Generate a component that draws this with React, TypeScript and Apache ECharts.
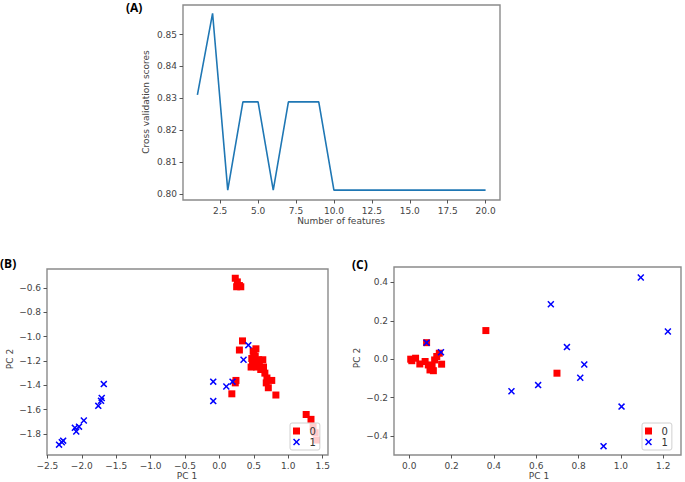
import React, { useEffect, useRef } from "react";
import * as echarts from "echarts";

// Panel A: recursive feature elimination
const featureCounts = [1, 2, 3, 4, 5, 6, 7, 8, 9, 10, 11, 12, 13, 14, 15, 16, 17, 18, 19, 20];
const cvScores = [0.8311, 0.8567, 0.8012, 0.8289, 0.8289, 0.8012, 0.8289, 0.8289, 0.8289, 0.8012,
  0.8012, 0.8012, 0.8012, 0.8012, 0.8012, 0.8012, 0.8012, 0.8012, 0.8012, 0.8012];
const ticksAX = [2.5, 5.0, 7.5, 10.0, 12.5, 15.0, 17.5, 20.0];
const ticksAY = [0.80, 0.81, 0.82, 0.83, 0.84, 0.85];

// Panel B: PCA, class 0 and class 1
const bClass0X = [0.23, 0.26, 0.29, 0.25, 0.31, 0.335, 0.29, 0.49, 0.52, 0.47, 0.57, 0.63, 0.46, 0.54, 0.64, 0.66, 0.69, 0.76, 0.68, 0.71, 0.82, 0.50, 0.55, 0.60, 0.48, 0.58, 0.53, 0.24, 0.23, 0.18, 1.26, 1.33, 1.36, 1.39, 1.41];
const bClass0Y = [-0.52, -0.55, -0.58, -0.59, -0.59, -1.035, -1.11, -1.12, -1.16, -1.18, -1.19, -1.19, -1.25, -1.25, -1.25, -1.30, -1.34, -1.36, -1.38, -1.42, -1.48, -1.14, -1.21, -1.27, -1.22, -1.23, -1.10, -1.36, -1.38, -1.47, -1.64, -1.68, -1.74, -1.79, -1.85];
const bClass1X = [0.42, 0.35, 0.19, 0.10, -0.09, -0.09, -1.68, -1.71, -1.72, -1.76, -1.97, -2.04, -2.10, -2.08, -2.27, -2.29, -2.33];
const bClass1Y = [-1.07, -1.19, -1.37, -1.41, -1.37, -1.53, -1.39, -1.505, -1.528, -1.569, -1.69, -1.74, -1.75, -1.78, -1.855, -1.868, -1.888];
const ticksBX = [-2.5, -2.0, -1.5, -1.0, -0.5, 0.0, 0.5, 1.0, 1.5];
const ticksBY = [-1.8, -1.6, -1.4, -1.2, -1.0, -0.8, -0.6];

// Panel C: PCA, class 0 and class 1
const cClass0X = [0.007, 0.012, 0.03, 0.05, 0.075, 0.09, 0.098, 0.114, 0.12, 0.13, 0.153, 0.142, 0.108, 0.082, 0.362, 0.698];
const cClass0Y = [0.0, -0.008, 0.005, -0.025, -0.012, -0.03, -0.056, -0.06, -0.004, 0.014, -0.026, 0.031, -0.035, 0.086, 0.149, -0.073];
const cClass1X = [0.082, 0.15, 0.483, 0.609, 0.669, 0.745, 0.808, 0.827, 1.003, 0.918, 1.094, 1.222];
const cClass1Y = [0.086, 0.036, -0.167, -0.135, 0.286, 0.063, -0.097, -0.028, -0.247, -0.453, 0.425, 0.144];
const ticksCX = [0.0, 0.2, 0.4, 0.6, 0.8, 1.0, 1.2];
const ticksCY = [-0.4, -0.2, 0.0, 0.2, 0.4];

const classNames = ["0", "1"];

const X_MARK = "path://M1.5,0 L5,3.5 L8.5,0 L10,1.5 L6.5,5 L10,8.5 L8.5,10 L5,6.5 L1.5,10 L0,8.5 L3.5,5 L0,1.5 Z";
const SQ_MARK = "path://M0,0 L10,0 L10,10 L0,10 Z";

const zip = (xs: number[], ys: number[]) => xs.map((x, i) => [x, ys[i]]);
const fmt = (d: number) => (v: number) => v.toFixed(d).replace("-", "\u2212");

const FONT = "DejaVu Sans";
const TICK_COLOR = "#444";
const FRAME = "#8a8a8a";

function axis(gridIndex: number, min: number, max: number, ticks: number[], digits: number) {
  return {
    type: "value",
    gridIndex,
    min,
    max,
    axisLine: { show: false, onZero: false },
    splitLine: { show: false },
    axisTick: { show: true, inside: false, length: 3.5, customValues: ticks, lineStyle: { color: "#555", width: 1 } },
    axisLabel: {
      show: true,
      customValues: ticks,
      formatter: fmt(digits),
      color: TICK_COLOR,
      fontFamily: FONT,
      fontSize: 9,
      margin: 6,
      showMinLabel: true,
      showMaxLabel: true,
    },
  };
}

function legendFor(left: number, top: number) {
  return {
    orient: "vertical",
    left,
    top,
    padding: [3, 4, 3, 3],
    itemGap: 1,
    itemWidth: 16,
    itemHeight: 7,
    backgroundColor: "rgba(255,255,255,0.8)",
    borderColor: "#d0d0d0",
    borderWidth: 1,
    borderRadius: 2,
    selectedMode: false,
    textStyle: { fontFamily: FONT, fontSize: 10, color: "#333", padding: [0, 0, 0, 0] },
    data: [
      { name: classNames[0], icon: SQ_MARK },
      { name: classNames[1], icon: X_MARK },
    ],
  };
}

function text(str: string, x: number, y: number, opts: any = {}) {
  return {
    type: "text",
    x,
    y,
    rotation: opts.rotation || 0,
    style: {
      text: str,
      fill: opts.fill || "#444",
      font: opts.font || `9px "${FONT}"`,
      textAlign: opts.align || "center",
      textVerticalAlign: opts.valign || "middle",
    },
  };
}

export default function App() {
  const ref = useRef<HTMLDivElement>(null);
  useEffect(() => {
    if (!ref.current) return;
    const chart = echarts.init(ref.current, null, { renderer: "svg" });
    const gridStyle = { show: true, borderColor: FRAME, borderWidth: 1.4, backgroundColor: "transparent", containLabel: false };
    chart.setOption({
      animation: false,
      backgroundColor: "#ffffff",
      grid: [
        { ...gridStyle, left: 183, top: 5, width: 317, height: 195 },
        { ...gridStyle, left: 47, top: 269, width: 281, height: 186 },
        { ...gridStyle, left: 394, top: 267, width: 287, height: 188 },
      ],
      xAxis: [
        axis(0, 0.05, 20.95, ticksAX, 1),
        axis(1, -2.505, 1.577, ticksBX, 1),
        axis(2, -0.072, 1.284, ticksCX, 1),
      ],
      yAxis: [
        axis(0, 0.7981, 0.8593, ticksAY, 2),
        axis(1, -1.973, -0.444, ticksBY, 1),
        axis(2, -0.499, 0.48, ticksCY, 1),
      ],
      legend: [legendFor(290, 423), legendFor(642, 423)],
      series: [
        {
          type: "line",
          name: "cv",
          xAxisIndex: 0,
          yAxisIndex: 0,
          data: zip(featureCounts, cvScores),
          showSymbol: false,
          symbol: "none",
          lineStyle: { color: "#1f77b4", width: 1.6 },
        },
        {
          type: "scatter",
          name: classNames[0],
          xAxisIndex: 1,
          yAxisIndex: 1,
          data: zip(bClass0X, bClass0Y),
          symbol: "rect",
          symbolSize: 7,
          itemStyle: { color: "#ff0000", opacity: 1 },
        },
        {
          type: "scatter",
          name: classNames[1],
          xAxisIndex: 1,
          yAxisIndex: 1,
          data: zip(bClass1X, bClass1Y),
          symbol: X_MARK,
          symbolSize: 7,
          itemStyle: { color: "#0000ff", opacity: 1 },
        },
        {
          type: "scatter",
          name: classNames[0],
          xAxisIndex: 2,
          yAxisIndex: 2,
          data: zip(cClass0X, cClass0Y),
          symbol: "rect",
          symbolSize: 7,
          itemStyle: { color: "#ff0000", opacity: 1 },
        },
        {
          type: "scatter",
          name: classNames[1],
          xAxisIndex: 2,
          yAxisIndex: 2,
          data: zip(cClass1X, cClass1Y),
          symbol: X_MARK,
          symbolSize: 7,
          itemStyle: { color: "#0000ff", opacity: 1 },
        },
      ],
      graphic: [
        text("(A)", 126, 7, { font: 'bold 12px "Open Sans"', fill: "#000", align: "left" }),
        text("(B)", 0, 263, { font: 'bold 12px "Open Sans"', fill: "#000", align: "left" }),
        text("(C)", 352, 264, { font: 'bold 12px "Open Sans"', fill: "#000", align: "left" }),
        text("Number of features", 341, 221),
        text("Cross validation scores", 146, 102, { rotation: Math.PI / 2 }),
        text("PC 1", 187, 476),
        text("PC 2", 10, 359, { rotation: Math.PI / 2 }),
        text("PC 1", 539, 476),
        text("PC 2", 357, 358, { rotation: Math.PI / 2 }),
      ],
    });
    return () => chart.dispose();
  }, []);
  return (
    <div
      ref={ref}
      style={{ position: "fixed", left: 0, top: 0, width: 685, height: 482, background: "#fff" }}
    />
  );
}
